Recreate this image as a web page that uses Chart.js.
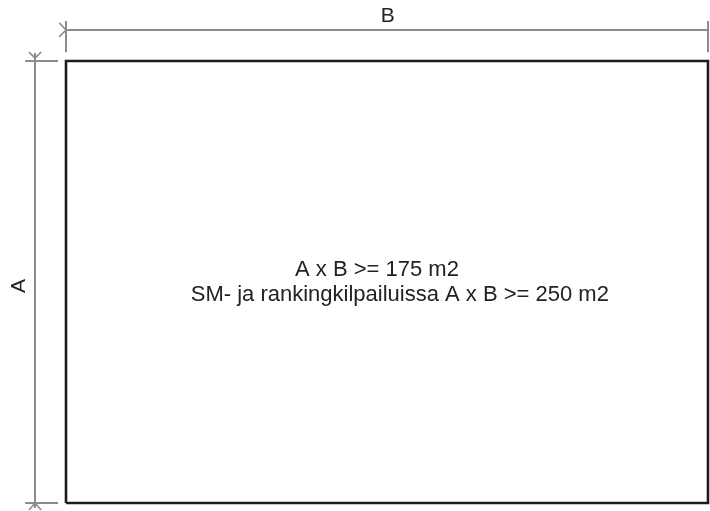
<!DOCTYPE html>
<html>
<head>
<meta charset="utf-8">
<script src="https://cdn.jsdelivr.net/npm/chart.js@4"></script>
<style>
  html, body { margin: 0; padding: 0; background: #ffffff; }
  #wrap { width: 710px; height: 511px; }
</style>
</head>
<body>
<div id="wrap"><canvas id="c" width="710" height="511"></canvas></div>
<script>
// Geometry in drawing units (B = 16, A = 11)
const rectX = [0, 16, 16, 0, 0];
const rectY = [0, 0, 11, 11, 0];

// Dimension line B (top)
const dimBX = [0, 16];
const dimBY = [11.77, 11.77];
const tickBLeftX = [0, 0];
const tickBLeftY = [11.995, 11.22];
const tickBRightX = [16, 16];
const tickBRightY = [11.995, 11.22];
const arrowBX = [-0.17, 0, -0.17];
const arrowBY = [11.95, 11.77, 11.60];

// Dimension line A (left)
const dimAX = [-0.773, -0.773];
const dimAY = [11.2, -0.124];
const extTopX = [-1.02, -0.2];
const extTopY = [11, 11];
const extBotX = [-1.02, -0.2];
const extBotY = [0, 0];
const arrowATopX = [-0.92, -0.773, -0.62];
const arrowATopY = [11.22, 11.07, 11.22];
const arrowABotX = [-0.92, -0.773, -0.62];
const arrowABotY = [-0.174, 0, -0.174];

// Text labels
const labelTexts = ['B', 'A', 'A x B >= 175 m2', 'SM- ja rankingkilpailuissa A x B >= 250 m2'];
const labelX = [8.02, -1.17, 7.75, 8.32];
const labelY = [12.12, 5.4, 5.8, 5.18];
const labelRot = [0, -90, 0, 0];
const labelSize = [21, 21, 22, 22];

function pts(xs, ys) { return xs.map((x, i) => ({ x: x, y: ys[i] })); }

const DIM = '#8c8c8c';
const RECT = '#1c1c1c';

function lineDs(xs, ys, color, width) {
  return {
    data: pts(xs, ys),
    showLine: true,
    borderColor: color,
    borderWidth: width,
    pointRadius: 0,
    pointHoverRadius: 0,
    fill: false,
    tension: 0,
    clip: false,
    borderCapStyle: 'butt',
    borderJoinStyle: 'miter'
  };
}

const textPlugin = {
  id: 'drawingText',
  afterDatasetsDraw(chart) {
    const ctx = chart.ctx;
    const xs = chart.scales.x, ys = chart.scales.y;
    ctx.save();
    ctx.fillStyle = '#222222';
    ctx.textAlign = 'center';
    ctx.textBaseline = 'middle';
    labelTexts.forEach((t, i) => {
      const px = xs.getPixelForValue(labelX[i]);
      const py = ys.getPixelForValue(labelY[i]);
      ctx.save();
      ctx.translate(px, py);
      ctx.rotate(labelRot[i] * Math.PI / 180);
      ctx.font = labelSize[i] + 'px "Liberation Sans", Arial, sans-serif';
      ctx.fillText(t, 0, 0);
      ctx.restore();
    });
    ctx.restore();
  }
};

new Chart(document.getElementById('c'), {
  type: 'scatter',
  data: {
    datasets: [
      lineDs(dimBX, dimBY, DIM, 2),
      lineDs(tickBLeftX, tickBLeftY, DIM, 2),
      lineDs(tickBRightX, tickBRightY, DIM, 2),
      lineDs(arrowBX, arrowBY, DIM, 1.6),
      lineDs(dimAX, dimAY, DIM, 2),
      lineDs(extTopX, extTopY, DIM, 2),
      lineDs(extBotX, extBotY, DIM, 2),
      lineDs(arrowATopX, arrowATopY, DIM, 1.6),
      lineDs(arrowABotX, arrowABotY, DIM, 1.6),
      lineDs(rectX, rectY, RECT, 2.6)
    ]
  },
  options: {
    responsive: false,
    animation: false,
    events: [],
    layout: { padding: 0 },
    plugins: { legend: { display: false }, tooltip: { enabled: false }, title: { display: false } },
    scales: {
      x: { type: 'linear', display: false, min: -1.645, max: 16.05 },
      y: { type: 'linear', display: false, min: -0.199, max: 12.518 }
    }
  },
  plugins: [textPlugin]
});
</script>
</body>
</html>
